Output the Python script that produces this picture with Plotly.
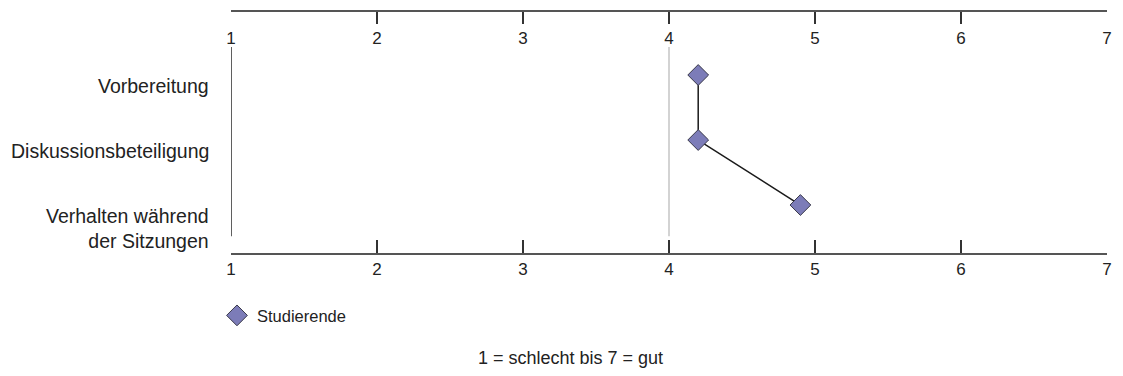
import plotly.graph_objects as go

# Kategorien (von oben nach unten) und Mittelwerte
kategorien = ["Vorbereitung", "Diskussionsbeteiligung", "Verhalten während<br>der Sitzungen"]
werte_studierende = [4.2, 4.2, 4.9]
skala_ticks = [1, 2, 3, 4, 5, 6, 7]
skala_text = ["1", "2", "3", "4", "5", "6", "7"]
serie_name = "Studierende"
fusszeile = "1 = schlecht bis 7 = gut"

font_family = "Liberation Sans, Arial, sans-serif"
achsen_farbe = "#555555"
text_farbe = "#222222"

fig = go.Figure()

# Verbindungslinie (untere Achse, liegt unter den Markern)
fig.add_trace(go.Scatter(
    x=werte_studierende,
    y=kategorien,
    mode="lines",
    line=dict(color="#1a1a1a", width=1.5),
    showlegend=False,
    hoverinfo="skip",
))

# Marker auf der oberen Achse (gleicher Wertebereich), damit sie oben liegen
fig.add_trace(go.Scatter(
    x=werte_studierende,
    y=kategorien,
    xaxis="x2",
    mode="markers",
    name=serie_name,
    marker=dict(symbol="diamond", size=16, color="#7c7cb8",
                line=dict(color="#3a3a4a", width=1)),
))

# Referenzlinie bei 4 und linke Achse (mit Abstand zu den Achsenbeschriftungen)
fig.add_shape(type="line", xref="x", yref="paper", x0=4, x1=4, y0=0.07, y1=0.855,
              line=dict(color="#c4c4c4", width=1.5), layer="below")
fig.add_shape(type="line", xref="x", yref="paper", x0=1, x1=1, y0=0.07, y1=0.855,
              line=dict(color="#2a2a2a", width=1.5))

# Kategorienbeschriftungen, leicht unterhalb der Marker, rechtsbündig
for kat in kategorien:
    fig.add_annotation(
        x=0, xref="paper", xanchor="right", xshift=-20,
        y=kat, yref="y", yanchor="top", yshift=2,
        text=kat, align="right", showarrow=False,
        font=dict(size=19.5, color=text_farbe),
    )

achse = dict(
    range=[1, 7],
    tickvals=skala_ticks,
    ticktext=skala_text,
    showgrid=False,
    zeroline=False,
    showline=True,
    linecolor=achsen_farbe,
    linewidth=1.5,
    ticks="inside",
    tickcolor="#333333",
    tickwidth=1.5,
    tickfont=dict(size=17, color=text_farbe),
)

fig.update_layout(
    width=1123,
    height=376,
    margin=dict(l=231, r=11, t=12, b=123),
    plot_bgcolor="white",
    paper_bgcolor="white",
    font=dict(family=font_family, size=16, color=text_farbe),
    showlegend=True,
    legend=dict(x=-0.016, y=-0.26, xanchor="left", yanchor="middle",
                font=dict(size=16.5), bgcolor="rgba(0,0,0,0)"),
    title=dict(text=fusszeile, x=0.508, xref="container", xanchor="center",
               y=0.048, yref="container", yanchor="middle",
               font=dict(size=18, color=text_farbe)),
    xaxis=dict(achse, ticklen=13),
    xaxis2=dict(achse, overlaying="x", side="top", anchor="y", ticklen=12,
                ticklabelposition="inside", ticklabeloverflow="allow",
                ticklabelstandoff=9),
    yaxis=dict(
        categoryorder="array",
        categoryarray=kategorien,
        range=[2.738, -0.969],
        showgrid=False,
        zeroline=False,
        showline=False,
        showticklabels=False,
        ticks="",
    ),
)

# Standardrand des Browsers entfernen, damit die Grafik bei (0, 0) beginnt
fig.write_html("out.html", config={"displayModeBar": False},
               post_script="document.body.style.margin = '0';")
